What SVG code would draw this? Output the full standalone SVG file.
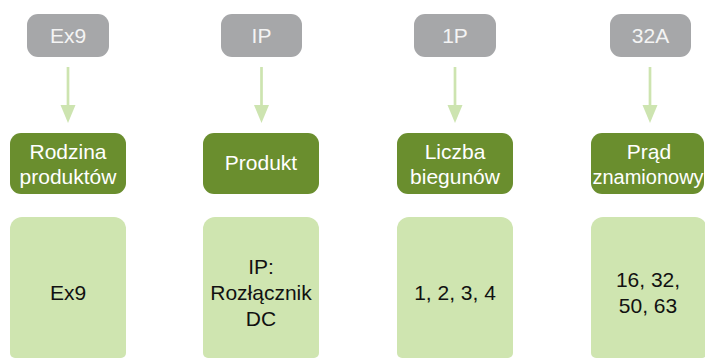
<svg xmlns="http://www.w3.org/2000/svg" width="705" height="359" viewBox="0 0 705 359">
<defs>
<style>
.g{fill:#a6a7a9}
.gt{fill:#f4f4f4;font-family:"Liberation Sans",Arial,sans-serif;font-size:21px;text-anchor:middle}
.d{fill:#6a8e2e}
.dt{fill:#ffffff;font-family:"Liberation Sans",Arial,sans-serif;font-size:21px;text-anchor:middle}
.l{fill:#cfe5b0}
.lt{fill:#111111;font-family:"Liberation Sans",Arial,sans-serif;font-size:21px;text-anchor:middle}
.c{stroke:#cde4b0;stroke-width:2.7;fill:none}
.h{fill:#cde4b0}
</style>
</defs>
<rect width="705" height="359" fill="#ffffff"/>
<g id="connectors">
<line class="c" x1="68" y1="67" x2="68" y2="106"/><polygon class="h" points="60.5,105 75.5,105 68,123"/>
<line class="c" x1="261.5" y1="67" x2="261.5" y2="106"/><polygon class="h" points="254,105 269,105 261.5,123"/>
<line class="c" x1="455" y1="67" x2="455" y2="106"/><polygon class="h" points="447.5,105 462.5,105 455,123"/>
<line class="c" x1="650" y1="67" x2="650" y2="106"/><polygon class="h" points="642.5,105 657.5,105 650,123"/>
</g>
<g id="top-ex9"><rect class="g" x="27" y="14" width="82" height="43" rx="11"/><text class="gt" x="68" y="43">Ex9</text></g>
<g id="top-ip"><rect class="g" x="221" y="14" width="81" height="43" rx="11"/><text class="gt" x="261.5" y="43">IP</text></g>
<g id="top-1p"><rect class="g" x="414" y="14" width="82" height="43" rx="11"/><text class="gt" x="455" y="43">1P</text></g>
<g id="top-32a"><rect class="g" x="610" y="14" width="81" height="43" rx="11"/><text class="gt" x="650.5" y="43">32A</text></g>
<g id="mid-rodzina"><rect class="d" x="10" y="133" width="116" height="61" rx="11"/><text class="dt" x="68" y="159">Rodzina</text><text class="dt" x="68" y="184">produktów</text></g>
<g id="mid-produkt"><rect class="d" x="203" y="133" width="116" height="61" rx="11"/><text class="dt" x="261" y="170">Produkt</text></g>
<g id="mid-liczba"><rect class="d" x="397" y="133" width="116" height="61" rx="11"/><text class="dt" x="455" y="159">Liczba</text><text class="dt" x="455" y="184">biegunów</text></g>
<g id="mid-prad"><rect class="d" x="591" y="133" width="113" height="61" rx="11"/><text class="dt" x="649" y="159">Prąd</text><text class="dt" x="648" y="184" style="font-size:20px">znamionowy</text></g>
<g id="bot-ex9"><path class="l" d="M22,217 H114 A12,12 0 0 1 126,229 V353 A5,5 0 0 1 121,358 H15 A5,5 0 0 1 10,353 V229 A12,12 0 0 1 22,217 Z"/><text class="lt" x="68" y="300">Ex9</text></g>
<g id="bot-ip"><path class="l" d="M215,217 H307 A12,12 0 0 1 319,229 V353 A5,5 0 0 1 314,358 H208 A5,5 0 0 1 203,353 V229 A12,12 0 0 1 215,217 Z"/><text class="lt" x="261" y="274">IP:</text><text class="lt" x="261" y="300">Rozłącznik</text><text class="lt" x="261" y="326">DC</text></g>
<g id="bot-1234"><path class="l" d="M409,217 H501 A12,12 0 0 1 513,229 V353 A5,5 0 0 1 508,358 H402 A5,5 0 0 1 397,353 V229 A12,12 0 0 1 409,217 Z"/><text class="lt" x="455" y="300">1, 2, 3, 4</text></g>
<g id="bot-prad"><path class="l" d="M603,217 H695 A12,12 0 0 1 707,229 V353 A5,5 0 0 1 702,358 H596 A5,5 0 0 1 591,353 V229 A12,12 0 0 1 603,217 Z"/><text class="lt" x="648" y="287">16, 32,</text><text class="lt" x="648" y="313">50, 63</text></g>
</svg>
